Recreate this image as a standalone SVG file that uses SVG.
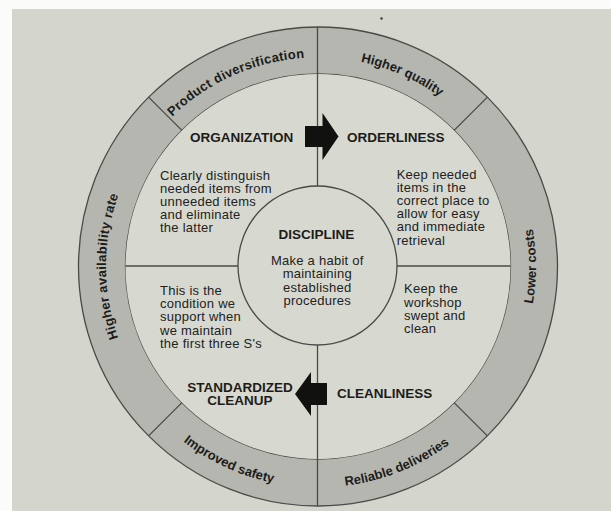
<svg xmlns="http://www.w3.org/2000/svg" width="611" height="511" viewBox="0 0 611 511">
  <style>
    .page { fill: #d4d6cd; }
    .ln { fill: none; stroke: #4a4a47; stroke-width: 1.3; }
    .ring { fill: #b5b6af; stroke: #4a4a47; stroke-width: 1.3; fill-rule: evenodd; }
    .disk { fill: #d7d9d0; stroke: #4a4a47; stroke-width: 1.3; }
    .rt { font-family: "Liberation Sans", Arial, sans-serif; font-size: 13px; font-weight: bold; fill: #1c1c1a; }
    .hd { font-family: "Liberation Sans", Arial, sans-serif; font-size: 13.5px; font-weight: bold; fill: #1c1c1a; }
    .bd { font-family: "Liberation Sans", Arial, sans-serif; font-size: 13px; letter-spacing: 0.25px; fill: #222220; }
    .arrow { fill: #111110; }
  </style>
  <defs>
    <!-- baselines for the labels set around the ring -->
    <path id="arcTop" d="M 109,266.5 A 209 209 0 0 1 527,266.5"/>
    <path id="arcLeft" d="M 318,478.5 A 212 212 0 0 1 318,54.5"/>
    <path id="arcRight" d="M 318,484.5 A 218 218 0 0 0 318,48.5"/>
    <path id="arcBottom" d="M 97,266.5 A 221 221 0 0 0 539,266.5"/>
  </defs>

  <!-- page -->
  <rect x="0" y="0" width="611" height="511" fill="#fbfbfa"/>
  <rect class="page" x="12" y="9" width="599" height="502"/>
  <circle cx="381.5" cy="18.5" r="1.2" fill="#3a3a38"/>

  <!-- outer ring of benefits -->
  <g id="ring">
    <path class="ring" d="M 78.5,266.5 A 239.5 239.5 0 1 1 557.5,266.5 A 239.5 239.5 0 1 1 78.5,266.5 Z M 125.5,266.5 A 192.5 192.5 0 1 0 510.5,266.5 A 192.5 192.5 0 1 0 125.5,266.5 Z"/>
    <path class="disk" d="M 125.5,266.5 A 192.5 192.5 0 1 0 510.5,266.5 A 192.5 192.5 0 1 0 125.5,266.5 Z" style="stroke:none"/>
    <line class="ln" x1="181.9" y1="130.4" x2="148.6" y2="97.1"/>
    <line class="ln" x1="454.1" y1="130.4" x2="487.4" y2="97.1"/>
    <line class="ln" x1="181.9" y1="402.6" x2="148.6" y2="435.9"/>
    <line class="ln" x1="454.1" y1="402.6" x2="487.4" y2="435.9"/>
  </g>

  <g id="benefit-product-diversification">
    <text class="rt" letter-spacing="0.3"><textPath href="#arcTop" startOffset="240.8" text-anchor="middle">Product diversification</textPath></text>
  </g>
  <g id="benefit-higher-quality">
    <text class="rt"><textPath href="#arcTop" startOffset="414.7" text-anchor="middle">Higher quality</textPath></text>
  </g>
  <g id="benefit-lower-costs">
    <text class="rt"><textPath href="#arcRight" startOffset="342.4" text-anchor="middle">Lower costs</textPath></text>
  </g>
  <g id="benefit-reliable-deliveries">
    <text class="rt"><textPath href="#arcBottom" startOffset="431.2" text-anchor="middle">Reliable deliveries</textPath></text>
  </g>
  <g id="benefit-improved-safety">
    <text class="rt"><textPath href="#arcBottom" startOffset="251.9" text-anchor="middle">Improved safety</textPath></text>
  </g>
  <g id="benefit-higher-availability-rate">
    <text class="rt" letter-spacing="0.3"><textPath href="#arcLeft" startOffset="333" text-anchor="middle">Higher availability rate</textPath></text>
  </g>

  <!-- quadrant dividers and the centre circle -->
  <g id="dividers">
    <line class="ln" x1="317.5" y1="27" x2="317.5" y2="186"/>
    <line class="ln" x1="317.5" y1="345" x2="317.5" y2="506"/>
    <line class="ln" x1="125.5" y1="266" x2="238" y2="266"/>
    <line class="ln" x1="397" y1="266" x2="510.5" y2="266"/>
  </g>

  <g id="organization">
    <text class="hd" x="190" y="141.7">ORGANIZATION</text>
    <text class="bd" x="160" y="179.5">Clearly distinguish</text>
    <text class="bd" x="160" y="192.8">needed items from</text>
    <text class="bd" x="160" y="206">unneeded items</text>
    <text class="bd" x="160" y="219.2">and eliminate</text>
    <text class="bd" x="160" y="232.4">the latter</text>
  </g>

  <g id="orderliness">
    <text class="hd" x="347" y="141.7">ORDERLINESS</text>
    <text class="bd" x="396.7" y="178.5">Keep needed</text>
    <text class="bd" x="396.7" y="191.7">items in the</text>
    <text class="bd" x="396.7" y="205">correct place to</text>
    <text class="bd" x="396.7" y="218.2">allow for easy</text>
    <text class="bd" x="396.7" y="231.4">and immediate</text>
    <text class="bd" x="396.7" y="244.6">retrieval</text>
  </g>

  <g id="cleanliness">
    <text class="hd" x="337" y="398.3">CLEANLINESS</text>
    <text class="bd" x="404" y="293.3">Keep the</text>
    <text class="bd" x="404" y="306.6">workshop</text>
    <text class="bd" x="404" y="319.9">swept and</text>
    <text class="bd" x="404" y="333.2">clean</text>
  </g>

  <g id="standardized-cleanup">
    <text class="hd" x="240" y="391.7" text-anchor="middle">STANDARDIZED</text>
    <text class="hd" x="240" y="405" text-anchor="middle">CLEANUP</text>
    <text class="bd" x="160" y="295">This is the</text>
    <text class="bd" x="160" y="308.2">condition we</text>
    <text class="bd" x="160" y="321.4">support when</text>
    <text class="bd" x="160" y="334.6">we maintain</text>
    <text class="bd" x="160" y="347.8">the first three S's</text>
  </g>

  <g id="discipline">
    <circle class="disk" cx="317.5" cy="265.5" r="79.5"/>
    <text class="hd" x="316.5" y="238.5" text-anchor="middle">DISCIPLINE</text>
    <text class="bd" x="317.3" y="265" text-anchor="middle">Make a habit of</text>
    <text class="bd" x="317.3" y="278.3" text-anchor="middle">maintaining</text>
    <text class="bd" x="317.3" y="291.6" text-anchor="middle">established</text>
    <text class="bd" x="317.3" y="304.6" text-anchor="middle">procedures</text>
  </g>

  <!-- flow between the quadrants -->
  <g id="connectors">
    <polygon class="arrow" points="305,126 322.5,126 322.5,113 338.5,136.5 322.5,160 322.5,147 305,147"/>
    <polygon class="arrow" points="327,383 311,383 311,372 295,394 311,416 311,405 327,405"/>
  </g>
</svg>
